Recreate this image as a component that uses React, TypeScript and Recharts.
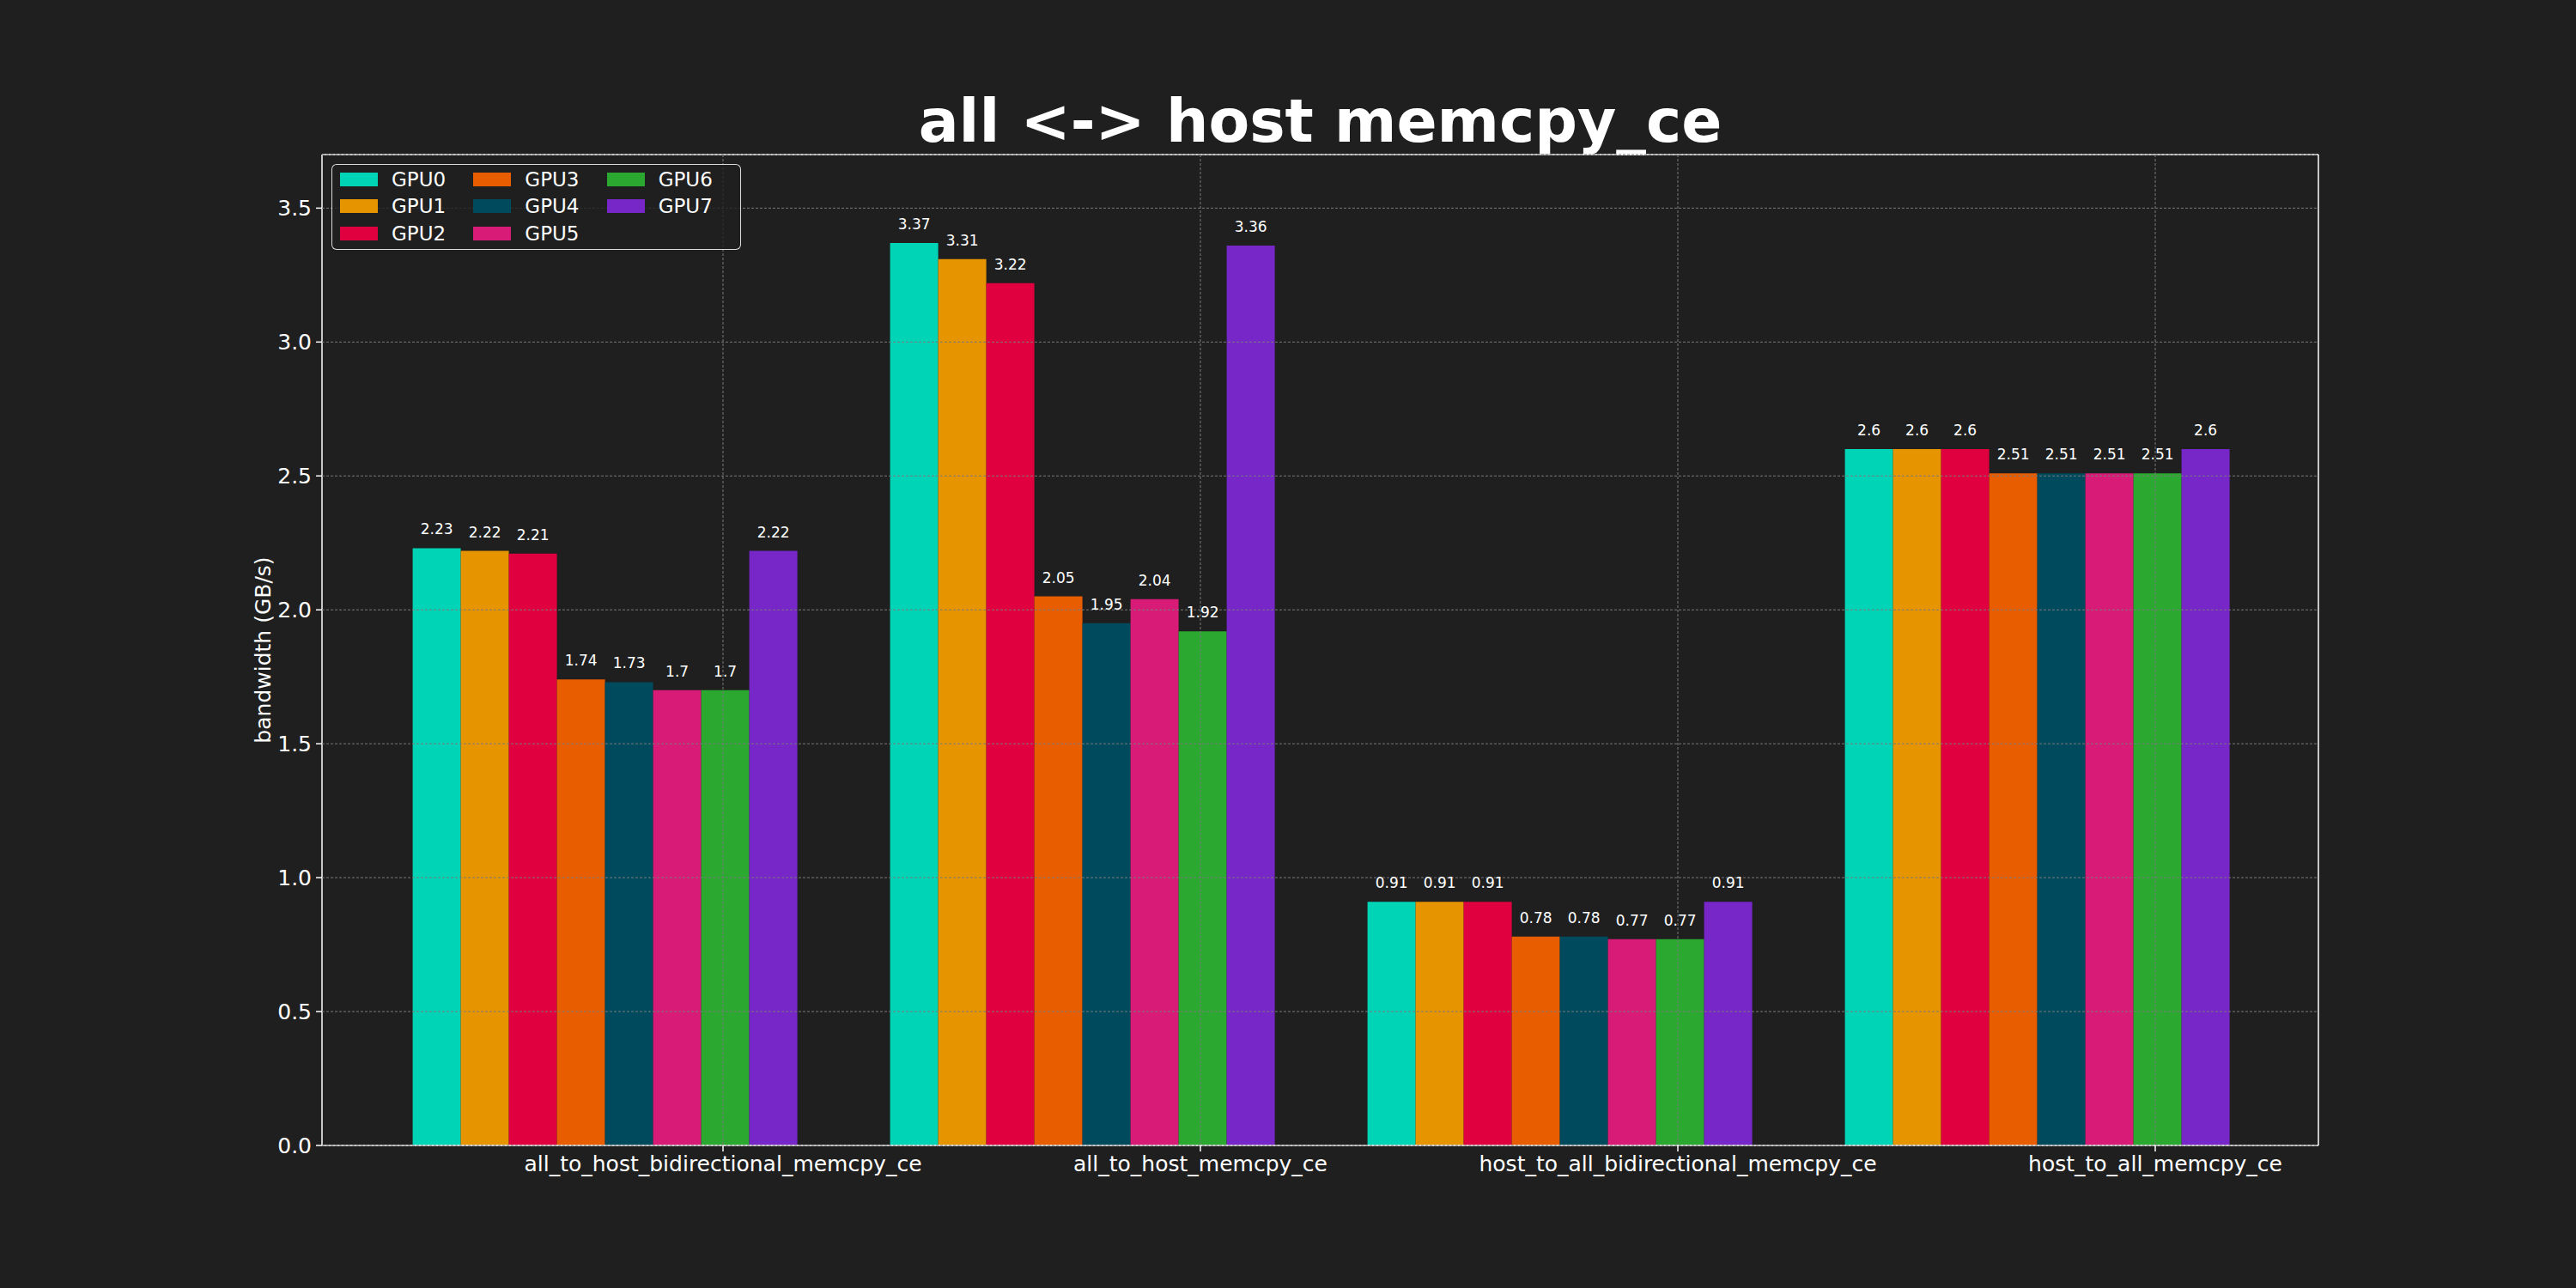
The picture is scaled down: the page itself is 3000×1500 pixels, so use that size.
import {
  Bar,
  BarChart,
  CartesianGrid,
  LabelList,
  Legend,
  XAxis,
  YAxis,
} from "recharts";

const categories = [
  "all_to_host_bidirectional_memcpy_ce",
  "all_to_host_memcpy_ce",
  "host_to_all_bidirectional_memcpy_ce",
  "host_to_all_memcpy_ce",
];

const gpu0 = [2.23, 3.37, 0.91, 2.6];
const gpu1 = [2.22, 3.31, 0.91, 2.6];
const gpu2 = [2.21, 3.22, 0.91, 2.6];
const gpu3 = [1.74, 2.05, 0.78, 2.51];
const gpu4 = [1.73, 1.95, 0.78, 2.51];
const gpu5 = [1.7, 2.04, 0.77, 2.51];
const gpu6 = [1.7, 1.92, 0.77, 2.51];
const gpu7 = [2.22, 3.36, 0.91, 2.6];

const yTicks = [0, 0.5, 1.0, 1.5, 2.0, 2.5, 3.0, 3.5];

const series = [
  { name: "GPU0", values: gpu0, color: "#00d4b6" },
  { name: "GPU1", values: gpu1, color: "#e69500" },
  { name: "GPU2", values: gpu2, color: "#e0003f" },
  { name: "GPU3", values: gpu3, color: "#e85d00" },
  { name: "GPU4", values: gpu4, color: "#004a5e" },
  { name: "GPU5", values: gpu5, color: "#d81b77" },
  { name: "GPU6", values: gpu6, color: "#2aa830" },
  { name: "GPU7", values: gpu7, color: "#7726c8" },
];

const rows = categories.map((name, i) => {
  const row: Record<string, string | number> = { name };
  series.forEach((s) => (row[s.name] = s.values[i]));
  return row;
});

// layout (matplotlib figure is 3000x1500, axes box 375..2700 x 180..1334)
const BG = "#1f1f1f";
const FONT = "DejaVu Sans";
const PAD_L = 50;
const PAD_R = 51;
const Y_AXIS_W = 138;
const X_AXIS_H = 60;
const PLOT_LEFT = 375;
const PLOT_RIGHT = 2700;
const PLOT_TOP = 180;
const PLOT_BOTTOM = 1334;
const BAND = (PLOT_RIGHT - PLOT_LEFT - PAD_L - PAD_R) / categories.length;
const TICK_SHIFT = BAND * 0.25; // labels sit right of the bar group centre

function XTick(props: any) {
  const { x, y, payload } = props;
  const tx = x + TICK_SHIFT;
  return (
    <g>
      <line x1={tx} x2={tx} y1={y - 12} y2={y - 5} stroke="#fff" strokeWidth={1.5} />
      <text
        x={tx}
        y={y}
        dy="0.71em"
        textAnchor="middle"
        fill="#fff"
        fontSize={25}
        fontFamily={FONT}
      >
        {payload.value}
      </text>
    </g>
  );
}

function LegendBox() {
  const cols = [series.slice(0, 3), series.slice(3, 6), series.slice(6)];
  return (
    <div
      style={{
        display: "flex",
        boxSizing: "border-box",
        width: 477,
        height: 100,
        padding: "1px 0 0 9px",
        border: "1.5px solid rgba(255,255,255,0.85)",
        borderRadius: 6,
        background: "rgba(31,31,31,0.8)",
        fontFamily: FONT,
        fontSize: 23,
        color: "#fff",
      }}
    >
      {cols.map((col, ci) => (
        <div key={ci} style={{ width: 168 }}>
          {col.map((s) => (
            <div
              key={s.name}
              style={{ display: "flex", alignItems: "center", height: 31.5 }}
            >
              <span
                style={{
                  display: "inline-block",
                  width: 44,
                  height: 16,
                  background: s.color,
                  marginRight: 16,
                }}
              />
              <span>{s.name}</span>
            </div>
          ))}
        </div>
      ))}
    </div>
  );
}

export default function App() {
  return (
    <div
      style={{
        position: "absolute",
        left: 0,
        top: 0,
        width: 3000,
        height: 1500,
        background: BG,
        fontFamily: FONT,
      }}
    >
      <div
        style={{
          position: "absolute",
          left: PLOT_LEFT,
          width: PLOT_RIGHT - PLOT_LEFT,
          top: 106,
          textAlign: "center",
          fontSize: 69.5,
          lineHeight: 1,
          fontWeight: "bold",
          color: "#fff",
        }}
      >
        all &lt;-&gt; host memcpy_ce
      </div>
      <BarChart
        width={3000}
        height={1500}
        data={rows}
        margin={{
          top: PLOT_TOP - 1,
          left: PLOT_LEFT - Y_AXIS_W,
          right: 3000 - PLOT_RIGHT - 1,
          bottom: 1500 - PLOT_BOTTOM - X_AXIS_H,
        }}
        barCategoryGap="10%"
        barGap={0}
      >
        <XAxis
          dataKey="name"
          padding={{ left: PAD_L, right: PAD_R }}
          height={X_AXIS_H}
          axisLine={{ stroke: "#fff", strokeWidth: 1.5 }}
          tickLine={false}
          tickSize={7}
          tickMargin={5}
          tick={<XTick />}
          interval={0}
        />
        <XAxis
          xAxisId="top"
          dataKey="name"
          orientation="top"
          height={1}
          tick={false}
          tickLine={false}
          axisLine={{ stroke: "#fff", strokeWidth: 1.5 }}
        />
        <YAxis
          width={Y_AXIS_W}
          domain={[0, 3.7]}
          ticks={yTicks}
          tickFormatter={(v: number) => v.toFixed(1)}
          axisLine={{ stroke: "#fff", strokeWidth: 1.5 }}
          tickLine={{ stroke: "#fff", strokeWidth: 1.5 }}
          tickSize={7}
          tickMargin={5}
          tick={{ fill: "#fff", fontSize: 25, fontFamily: FONT }}
          label={{
            value: "bandwidth (GB/s)",
            angle: -90,
            position: "center",
            fill: "#fff",
            fontSize: 25,
            fontFamily: FONT,
          }}
        />
        <YAxis
          yAxisId="right"
          orientation="right"
          width={1}
          type="number"
          domain={[0, 3.7]}
          tick={false}
          tickLine={false}
          axisLine={{ stroke: "#fff", strokeWidth: 1.5 }}
        />
        <Legend
          layout="horizontal"
          verticalAlign="middle"
          align="center"
          content={<LegendBox />}
          wrapperStyle={{ position: "absolute", left: 386, top: 191, width: 477 }}
        />
        {series.map((s) => (
          <Bar
            key={s.name}
            dataKey={s.name}
            fill={s.color}
            isAnimationActive={false}
          >
            <LabelList
              dataKey={s.name}
              position="top"
              offset={16}
              fill="#fff"
              fontSize={17}
              fontFamily={FONT}
            />
          </Bar>
        ))}
        <CartesianGrid
          stroke="#7a7a7a"
          strokeWidth={1}
          strokeDasharray="3 2"
          zIndex={600}
          verticalCoordinatesGenerator={({ offset }: any) =>
            categories.map(
              (_, i) => offset.left + PAD_L + BAND * (i + 0.5) + TICK_SHIFT
            )
          }
        />
      </BarChart>
    </div>
  );
}
